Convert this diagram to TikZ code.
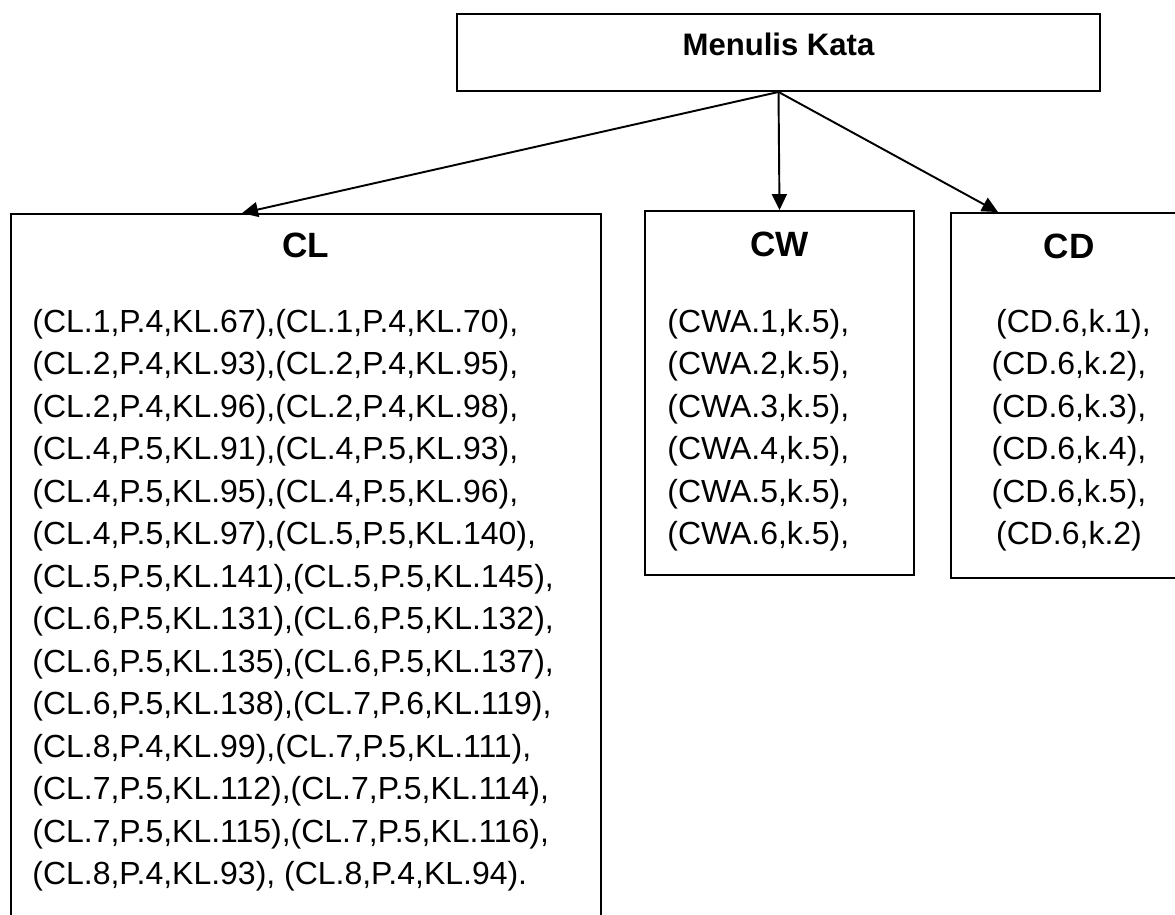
\documentclass[tikz,border=0pt]{standalone}
\usepackage{fontspec}
\setmainfont{Liberation Sans}
\usetikzlibrary{positioning, arrows.meta}

\begin{document}
\begin{tikzpicture}[x=0.02cm,y=-0.02cm,
        box/.style={rectangle,draw=black,line width=1.1pt,inner sep=0pt},
        title/.style={inner sep=0pt,anchor=base,font=\bfseries\fontsize{20}{24}\selectfont},
        body/.style={inner sep=0pt,font=\fontsize{18.2}{20}\selectfont},
        arrow/.style={line width=1.1pt,-{Triangle[length=0.32cm,width=0.3cm]}}]

        \useasboundingbox (0,0) rectangle (1175,914);
        \clip (0,0) rectangle (1175,914);

        \node[box,anchor=base,text height=0.82cm,text depth=0.72cm,minimum width=12.86cm,
              font=\bfseries\fontsize{17.7}{22}\selectfont] (menu) at (778.5,55) {Menulis Kata};

        \node[box,minimum width=11.8cm,minimum height=14.92cm] (cl) at (306,587) {};
        \node[box,minimum width=5.38cm,minimum height=7.28cm] (cw) at (779.5,393) {};
        \node[box,minimum width=4.98cm,minimum height=7.30cm] (cd) at (1075.5,395.5) {};

        \node[title] (cltitle) at (306,257) {CL};
        \node[title] (cwtitle) at (779.5,256) {CW};
        \node[title] (cdtitle) at (1069,258) {CD};

        % isi kotak CL
        \foreach \t [count=\i] in {{(CL.1,P.4,KL.67),(CL.1,P.4,KL.70),},
                {(CL.2,P.4,KL.93),(CL.2,P.4,KL.95),},
                {(CL.2,P.4,KL.96),(CL.2,P.4,KL.98),},
                {(CL.4,P.5,KL.91),(CL.4,P.5,KL.93),},
                {(CL.4,P.5,KL.95),(CL.4,P.5,KL.96),},
                {(CL.4,P.5,KL.97),(CL.5,P.5,KL.140),},
                {(CL.5,P.5,KL.141),(CL.5,P.5,KL.145),},
                {(CL.6,P.5,KL.131),(CL.6,P.5,KL.132),},
                {(CL.6,P.5,KL.135),(CL.6,P.5,KL.137),},
                {(CL.6,P.5,KL.138),(CL.7,P.6,KL.119),},
                {(CL.8,P.4,KL.99),(CL.7,P.5,KL.111),},
                {(CL.7,P.5,KL.112),(CL.7,P.5,KL.114),},
                {(CL.7,P.5,KL.115),(CL.7,P.5,KL.116),},
                {(CL.8,P.4,KL.93), (CL.8,P.4,KL.94).}}
            \node[body,anchor=base west] (cl\i) at (32,{332+42.5*(\i-1)}) {\t};

        % isi kotak CW
        \foreach \t [count=\i] in {{(CWA.1,k.5),},{(CWA.2,k.5),},{(CWA.3,k.5),},
                {(CWA.4,k.5),},{(CWA.5,k.5),},{(CWA.6,k.5),}}
            \node[body,anchor=base west] (cw\i) at (667,{332+42.5*(\i-1)}) {\t};

        % isi kotak CD
        \foreach \t [count=\i] in {{\ (CD.6,k.1),},{(CD.6,k.2),},{(CD.6,k.3),},
                {(CD.6,k.4),},{(CD.6,k.5),},{(CD.6,k.2)}}
            \node[body,anchor=base] (cd\i) at (1069,{332+42.5*(\i-1)}) {\t};

        \draw[arrow] (menu.south) -- ([xshift=-1.28cm]cl.north);
        \draw[arrow] (menu.south) -- (cw.north);
        \draw[arrow] (menu.south) -- ([xshift=-1.55cm]cd.north);
\end{tikzpicture}
\end{document}
